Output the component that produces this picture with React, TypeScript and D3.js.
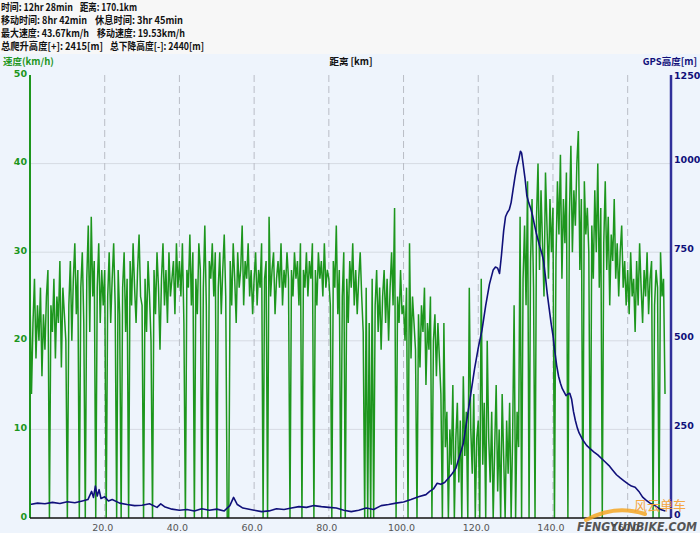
import React from 'react';
import * as d3 from 'd3';

// ---------- data ----------
const headerLines = [
  ['时间: 12hr 28min', '距离: 170.1km'],
  ['移动时间: 8hr 42min', '休息时间: 3hr 45min'],
  ['最大速度: 43.67km/h', '移动速度: 19.53km/h'],
  ['总爬升高度[+]: 2415[m]', '总下降高度[-]: 2440[m]'],
];
const headerFirstW = [72, 86, 88, 102];
const headerSecondX = [80, 95, 97, 110];
const headerSecondW = [57, 88, 88, 94];

const distTicks = [20, 40, 60, 80, 100, 120, 140, 160];
const speedTicks = [0, 10, 20, 30, 40, 50];
const elevTicks = [0, 250, 500, 750, 1000, 1250];

const SPEED_STEP_KM = 0.4;
const speedValues = [
  25, 14, 22, 27, 18, 24, 20, 26, 16, 23, 19, 25, 28, 0, 24, 21, 27, 18, 25, 22, 29, 17, 26, 23, 20,
  0, 24, 29, 20, 27, 31, 23, 28, 0, 26, 30, 22, 0, 27, 33, 21, 34, 25, 29, 0, 26, 31, 22, 28, 24,
  28, 0, 25, 30, 22, 27, 31, 24, 0, 28, 23, 0, 26, 30, 21, 27, 0, 29, 24, 31, 26, 22, 28, 32, 25,
  24, 0, 27, 21, 29, 25, 20, 0, 28, 23, 30, 26, 19, 27, 31, 24, 28, 22, 30, 25, 27, 29, 23, 31, 26,
  29, 25, 31, 22, 0, 28, 26, 32, 24, 30, 0, 27, 23, 31, 28, 0, 26, 33, 24, 0, 29, 27, 31, 25, 30,
  0, 26, 30, 23, 28, 32, 25, 0, 0, 29, 24, 31, 27, 22, 30, 26, 28, 33, 24, 29, 27, 31, 25, 28, 23,
  27, 30, 24, 28, 26, 31, 0, 27, 29, 0, 34, 25, 28, 30, 23, 27, 29, 26, 31, 24, 28, 26, 30, 27, 0,
  28, 25, 30, 27, 29, 24, 31, 0, 28, 26, 30, 25, 29, 27, 31, 0, 28, 24, 30, 27, 29, 25, 31, 26, 28,
  27, 24, 0, 29, 26, 33, 23, 28, 0, 25, 30, 0, 27, 22, 29, 26, 31, 24, 28, 23, 27, 30, 25, 21, 0,
  26, 0, 22, 0, 27, 0, 24, 28, 21, 26, 19, 25, 28, 22, 27, 20, 26, 30, 24, 35, 0, 25, 22, 28, 23,
  24, 20, 26, 0, 31, 18, 25, 22, 19, 0, 23, 17, 24, 21, 26, 15, 22, 19, 25, 0, 20, 23, 16, 22, 18,
  14, 0, 22, 8, 12, 0, 10, 6, 15, 0, 9, 13, 4, 11, 0, 16, 7, 12, 0, 26, 10, 5, 14, 0, 9,
  11, 0, 27, 6, 13, 0, 20, 9, 4, 12, 0, 8, 15, 3, 10, 0, 14, 7, 0, 11, 5, 13, 0, 9, 24,
  0, 12, 8, 34, 0, 27, 33, 24, 38, 0, 29, 36, 26, 0, 34, 40, 28, 37, 31, 25, 39, 33, 27, 36, 30,
  35, 0, 29, 38, 32, 41, 27, 36, 31, 39, 0, 34, 42, 30, 37, 33, 40, 43.67, 28, 36, 0, 38, 32, 35, 30,
  0, 33, 27, 37, 30, 40, 26, 35, 0, 31, 38, 28, 34, 24, 32, 29, 36, 27, 31, 25, 30, 33, 26, 29, 24,
  28, 23, 30, 25, 27, 21, 29, 24, 31, 26, 22, 28, 25, 30, 23, 27, 29, 0, 24, 28, 26, 0, 30, 25, 27,
  14,
];

const elevKm = [
  0, 2, 4, 6, 8, 10, 12, 14, 15.5, 16.5, 17, 17.5, 18, 18.5, 19, 20, 21, 22, 24, 26, 28, 30, 32, 34, 35, 36, 38,
  40, 42, 44, 46, 48, 50, 52, 53.5, 54.5, 55.5, 57, 60, 62, 64, 66, 68, 70, 72, 74, 76, 78, 80, 82, 84, 86, 88,
  90, 92, 94, 96, 98, 100, 102, 104, 106, 107, 108, 109, 110, 111, 112, 113, 114, 115, 116, 117, 118, 119, 120,
  121, 122, 123, 124, 124.6, 125.2, 125.7, 126.2, 126.8, 127.3, 127.8, 128.3, 128.8, 129.3, 129.8, 130.3, 130.8,
  131.3, 131.6, 132, 132.5, 133, 133.5, 134, 134.5, 135, 135.5, 136, 136.5, 137, 137.5, 138, 138.5, 139, 139.5,
  140, 140.5, 141, 141.5, 142, 142.5, 143, 143.5, 144, 144.5, 145, 145.5, 146, 146.5, 147, 148, 149, 150, 151,
  152, 153, 154, 155, 156, 157, 158, 159, 160, 161, 162, 163, 164, 165, 166, 167, 168, 169, 170.1,
];
const elevM = [
  38, 42, 40, 44, 41, 46, 43, 48, 52, 75, 58, 90, 62, 80, 55, 60, 48, 52, 42, 38, 35, 36, 40, 30, 40, 32, 25,
  22, 24, 20, 26, 22, 25, 20, 35, 58, 38, 28, 22, 18, 20, 26, 24, 28, 32, 30, 35, 32, 30, 28, 22, 18, 22,
  28, 24, 35, 38, 42, 45, 52, 60, 66, 75, 82, 98, 95, 100, 112, 125, 140, 175, 210, 280, 350, 420, 480,
  530, 600, 660, 700, 708, 705, 690, 740, 810, 850, 862, 870, 890, 925, 960, 990, 1010,
  1035, 1030, 1000, 960, 910, 890, 875, 855, 830, 805, 785, 765, 748, 725, 680, 630, 590, 550,
  515, 470, 430, 400, 380, 365, 355, 345, 350, 352, 335, 300, 275, 255, 240, 220, 205, 195, 186,
  178, 168, 158, 148, 135, 122, 113, 105, 97, 90, 87, 75, 59, 50, 42, 37, 30, 23, 20,
];

// ---------- layout ----------
const W = 700;
const H = 533;
const PL = 30;
const PR = 671;
const PT = 75;
const PB = 518;

const GREEN = '#1d961d';
const NAVY = '#10107a';

export default function App() {
  const x = d3.scaleLinear().domain([0, 171.6]).range([PL, PR]);
  const yS = d3.scaleLinear().domain([0, 50]).range([PB, PT]);
  const yE = d3.scaleLinear().domain([0, 1250]).range([PB, PT]);

  const speedPts = speedValues.map((v, i) => [i * SPEED_STEP_KM, v] as [number, number]);
  const speedPath = d3
    .line<[number, number]>()
    .x((d) => x(d[0]))
    .y((d) => yS(d[1]))(speedPts) as string;

  const elevPts = elevKm.map((k, i) => [k, elevM[i]] as [number, number]);
  const elevPath = d3
    .line<[number, number]>()
    .x((d) => x(d[0]))
    .y((d) => yE(d[1]))(elevPts) as string;

  const cjk = '"Noto Sans CJK SC", "DejaVu Sans", sans-serif';
  const num = '"DejaVu Sans", "Noto Sans", sans-serif';

  return (
    <svg
      width={W}
      height={H}
      style={{ position: 'absolute', left: 0, top: 0, display: 'block' }}
      xmlns="http://www.w3.org/2000/svg"
    >
      <defs>
        <clipPath id="plotclip">
          <rect x={PL} y={PT - 2} width={PR - PL} height={PB - PT + 2} />
        </clipPath>
      </defs>
      <rect x={0} y={0} width={W} height={H} fill="#eef4fc" />
      <rect x={0} y={0} width={W} height={54} fill="#f7f7f7" />

      {/* header */}
      {headerLines.map((ln, i) => (
        <g key={i} fontFamily={cjk} fontSize={10} fontWeight="bold" fill="#111">
          <text x={1} y={11 + i * 13} textLength={headerFirstW[i]} lengthAdjust="spacingAndGlyphs">{ln[0]}</text>
          <text x={headerSecondX[i]} y={11 + i * 13} textLength={headerSecondW[i]} lengthAdjust="spacingAndGlyphs">{ln[1]}</text>
        </g>
      ))}

      {/* axis titles */}
      <text x={3} y={65} fontFamily={cjk} fontSize={9.5} fontWeight="bold" fill={GREEN}>速度(km/h)</text>
      <text x={351} y={65} textAnchor="middle" fontFamily={cjk} fontSize={9.5} fontWeight="bold" fill="#111">距离 [km]</text>
      <text x={697} y={65} textAnchor="end" fontFamily={cjk} fontSize={9.5} fontWeight="bold" fill={NAVY}>GPS高度[m]</text>

      {/* grid */}
      {speedTicks.filter((t) => t > 0 && t < 50).map((t) => (
        <line key={'h' + t} x1={PL} x2={PR} y1={yS(t)} y2={yS(t)} stroke="#d6dbe3" strokeWidth={1} />
      ))}
      {distTicks.map((t) => (
        <line key={'v' + t} x1={x(t)} x2={x(t)} y1={PT} y2={PB} stroke="#b9bdc6" strokeWidth={1} strokeDasharray="7,4" />
      ))}

      {/* series */}
      <g clipPath="url(#plotclip)">
        <path d={speedPath} fill="none" stroke={GREEN} strokeWidth={1.5} strokeLinejoin="miter" />
        <path d={elevPath} fill="none" stroke={NAVY} strokeWidth={1.6} strokeLinejoin="round" />
      </g>

      {/* axes */}
      <line x1={PL} x2={PL} y1={PT} y2={PB} stroke={GREEN} strokeWidth={2} />
      <line x1={PR} x2={PR} y1={PT} y2={PB} stroke="#30309a" strokeWidth={2.5} />
      <line x1={PL} x2={PR} y1={PB} y2={PB} stroke="#111" strokeWidth={1.5} />

      {/* tick labels */}
      {speedTicks.map((t) => (
        <text key={'sl' + t} x={27} y={yS(t) - 1} textAnchor="end" dominantBaseline="middle"
          fontFamily={num} fontSize={9.5} fontWeight="bold" fill={GREEN}>{t}</text>
      ))}
      {elevTicks.map((t) => (
        <text key={'el' + t} x={674} y={t === 1250 ? yE(t) + 1 : yE(t) - 3} dominantBaseline="middle"
          fontFamily={num} fontSize={9.5} fontWeight="bold" fill={NAVY}>{t}</text>
      ))}
      {distTicks.map((t) => (
        <text key={'dl' + t} x={x(t) - 2} y={531} textAnchor="middle"
          fontFamily={num} fontSize={9.5} fill="#555">{t.toFixed(1)}</text>
      ))}

      {/* watermark */}
      <path d="M586,520 Q615,504 645,514" fill="none" stroke="#f5a623" strokeWidth={4} strokeLinecap="round" opacity={0.85} />
      <text x={660} y={510} textAnchor="middle" fontFamily={cjk} fontSize={13} fill="#f5a030" opacity={0.9}>风云单车</text>
      <text x={577} y={531} fontFamily={num} fontSize={13} fontWeight="bold" fontStyle="italic"
        fill="#3a3a3a" opacity={0.85} textLength={120} lengthAdjust="spacingAndGlyphs">FENGYUNBIKE.COM</text>
    </svg>
  );
}
